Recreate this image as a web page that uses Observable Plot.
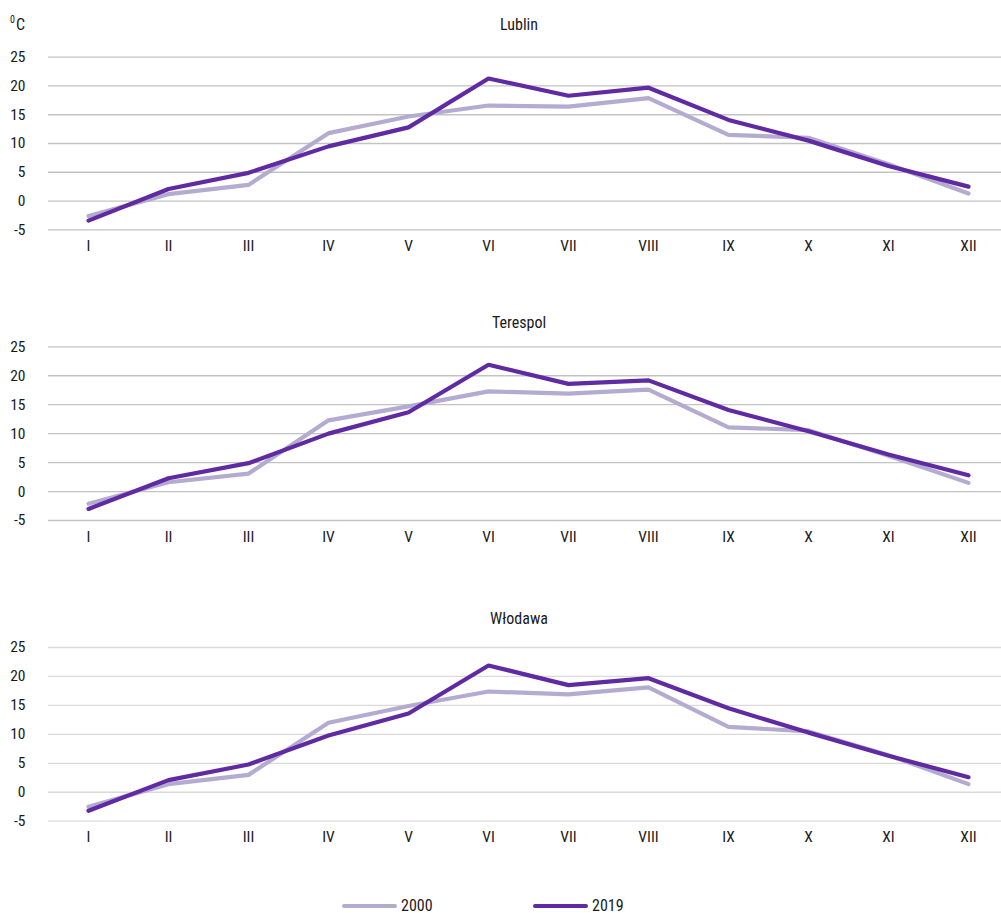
<!DOCTYPE html>
<html>
<head>
<meta charset="utf-8">
<script src="https://cdn.jsdelivr.net/npm/d3@7"></script>
<script src="https://cdn.jsdelivr.net/npm/@observablehq/plot@0.6"></script>
<style>
  html, body { margin: 0; padding: 0; background: #fff; }
  body { width: 1001px; height: 913px; position: relative; overflow: hidden;
         font-family: Roboto, "Liberation Sans", sans-serif; font-stretch: condensed; color: #1a1a1a; }
  .panel { position: absolute; left: 0; }
  .title { position: absolute; font-size: 16px; line-height: 18px; transform: translateX(-50%); white-space: nowrap; }
  .unit { position: absolute; left: 10px; top: 12px; font-size: 16px; line-height: 18px; }
  .unit sup { font-size: 10px; position: relative; top: -1px; margin-right: 1px; }
  .legend { position: absolute; top: 898px; height: 16px; font-size: 16px; line-height: 16px; display: flex; align-items: center; }
  .legend .sw { display: inline-block; width: 55px; height: 4px; border-radius: 2px; margin-right: 4px; }
</style>
</head>
<body>
<div class="unit"><sup>0</sup>C</div>
<div id="charts"></div>
<script>
const months = ["I","II","III","IV","V","VI","VII","VIII","IX","X","XI","XII"];
const years = ["2000", "2019"];
const stations = ["Lublin", "Terespol", "Włodawa"];
const yTicks = [-5, 0, 5, 10, 15, 20, 25];

const lublin2000   = [-2.6, 1.2, 2.8, 11.8, 14.7, 16.6, 16.4, 17.9, 11.5, 11.0, 6.4, 1.3];
const lublin2019   = [-3.4, 2.1, 4.9,  9.5, 12.8, 21.3, 18.3, 19.7, 14.1, 10.5, 6.1, 2.5];
const terespol2000 = [-2.1, 1.6, 3.1, 12.3, 14.7, 17.3, 16.9, 17.6, 11.1, 10.6, 6.2, 1.5];
const terespol2019 = [-3.0, 2.3, 4.9, 10.0, 13.7, 21.9, 18.6, 19.2, 14.1, 10.4, 6.4, 2.8];
const wlodawa2000  = [-2.5, 1.4, 3.0, 12.0, 14.9, 17.4, 16.9, 18.1, 11.3, 10.5, 6.4, 1.4];
const wlodawa2019  = [-3.2, 2.1, 4.8,  9.8, 13.6, 21.9, 18.5, 19.7, 14.5, 10.3, 6.3, 2.6];

const seriesByStation = {
  "Lublin":   [lublin2000, lublin2019],
  "Terespol": [terespol2000, terespol2019],
  "Włodawa":  [wlodawa2000, wlodawa2019]
};

const colors = ["#b4abd0", "#5f2aa2"];
const FONT = "Roboto, 'Liberation Sans', sans-serif";

// layout per panel: svg top offset, marginTop (y=25), marginBottom, title y, grid colour
const layout = [
  {top: 0,   mt: 56.7, mb: 30.7, ty: 16,  grid: "#c3c3c3"},
  {top: 290, mt: 56.3, mb: 30.0, ty: 314, grid: "#c3c3c3"},
  {top: 590, mt: 57.0, mb: 29.3, ty: 610, grid: "#dadada"}
];

const container = document.getElementById("charts");
const H = 260;

stations.forEach((st, si) => {
  const L = layout[si];
  const data = [];
  seriesByStation[st].forEach((vals, yi) => {
    vals.forEach((v, mi) => data.push({month: months[mi], value: v, year: years[yi]}));
  });
  const chart = Plot.plot({
    width: 1001,
    height: H,
    marginLeft: 48,
    marginRight: 0,
    marginTop: L.mt,
    marginBottom: L.mb,
    style: {fontFamily: FONT, fontSize: "15px", color: "#1a1a1a", background: "transparent"},
    x: {type: "point", domain: months, range: [88, 968], padding: 0},
    y: {domain: [-5, 25]},
    color: {domain: years, range: colors},
    marks: [
      Plot.ruleY(yTicks, {stroke: L.grid, strokeWidth: 1.3}),
      Plot.axisY({ticks: yTicks, tickSize: 0, tickPadding: 23, fontSize: 15.5, label: null, tickFormat: d => String(d)}),
      Plot.axisX({tickSize: 0, tickPadding: 10, fontSize: 15.5, label: null}),
      Plot.line(data, {x: "month", y: "value", z: "year", stroke: "year", strokeWidth: 4.2,
                       strokeLinejoin: "miter", strokeLinecap: "round"})
    ]
  });
  chart.classList.add("panel");
  chart.style.top = L.top + "px";
  container.appendChild(chart);

  const t = document.createElement("div");
  t.className = "title";
  t.textContent = st;
  t.style.left = "519px";
  t.style.top = L.ty + "px";
  document.body.appendChild(t);
});

// legend
const legendPos = [342, 533];
years.forEach((yr, i) => {
  const d = document.createElement("div");
  d.className = "legend";
  d.style.left = legendPos[i] + "px";
  d.innerHTML = `<span class="sw" style="background:${colors[i]}"></span><span>${yr}</span>`;
  document.body.appendChild(d);
});
</script>
</body>
</html>
